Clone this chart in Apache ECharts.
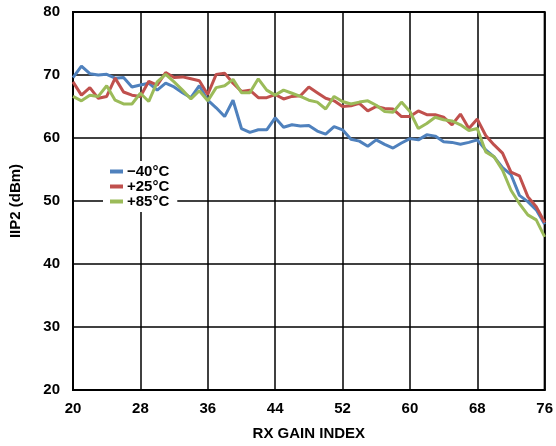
<!DOCTYPE html>
<html>
<head>
<meta charset="utf-8">
<script src="https://cdn.jsdelivr.net/npm/echarts@6/dist/echarts.min.js"></script>
<style>
html,body{margin:0;padding:0;background:#fff;}
#chart{width:556px;height:446px;}
</style>
</head>
<body>
<div id="chart"></div>
<script>
// Gain index categories 20..76
const gainIndex = [20,21,22,23,24,25,26,27,28,29,30,31,32,33,34,35,36,37,38,39,40,41,42,43,44,45,46,47,48,49,50,51,52,53,54,55,56,57,58,59,60,61,62,63,64,65,66,67,68,69,70,71,72,73,74,75,76];
const iip2Minus40 = [69.6,71.4,70.2,70.0,70.1,69.5,69.6,68.1,68.4,68.7,67.6,68.7,68.1,67.2,66.4,68.3,66.0,64.8,63.4,66.0,61.5,60.9,61.3,61.3,63.2,61.7,62.1,61.9,62.0,61.1,60.6,61.8,61.3,59.8,59.5,58.7,59.7,59.0,58.4,59.2,59.9,59.7,60.5,60.3,59.4,59.3,59.0,59.3,59.7,58.1,57.0,55.3,54.2,50.9,49.9,48.6,46.3];
const iip2Plus25 = [68.9,66.8,68.0,66.3,66.6,69.5,67.3,66.8,66.6,69.0,68.4,70.4,69.6,69.7,69.4,69.1,66.9,70.1,70.3,68.7,67.4,67.6,66.4,66.4,66.9,66.2,66.6,66.7,68.1,67.2,66.3,65.9,65.0,65.1,65.5,64.3,65.0,64.7,64.6,63.4,63.4,64.3,63.7,63.7,63.3,62.1,63.8,61.5,63.0,60.4,58.9,57.6,54.6,54.0,50.7,49.1,46.6];
const iip2Plus85 = [66.6,65.9,66.8,66.6,68.3,66.0,65.4,65.4,67.1,65.8,68.9,70.1,68.9,67.6,66.2,67.5,65.9,68.0,68.3,69.3,67.2,67.2,69.4,67.6,66.8,67.6,67.1,66.6,66.0,65.7,64.6,66.6,65.8,65.4,65.7,65.9,65.2,64.2,64.1,65.7,64.2,61.5,62.3,63.3,62.9,62.7,62.1,61.2,61.5,57.8,57.0,54.9,51.7,49.6,47.8,47.0,44.3];
const seriesNames = ['\u221240\u00B0C', '+25\u00B0C', '+85\u00B0C'];
const seriesColors = ['#4f81bd', '#c0504d', '#9bbb59'];

const font = 'Liberation Sans, Arial, sans-serif';
const chart = echarts.init(document.getElementById('chart'), null, {renderer: 'canvas'});
const seriesData = [iip2Minus40, iip2Plus25, iip2Plus85];
chart.setOption({
  animation: false,
  backgroundColor: '#fff',
  grid: {left: 71, right: 11, top: 12, bottom: 56, show: true, borderColor: '#000', borderWidth: 2, backgroundColor: 'transparent'},
  legend: {
    orient: 'vertical', left: 103, top: 161,
    padding: [3, 8, 3, 7],
    backgroundColor: '#fff',
    itemWidth: 13, itemHeight: 4, itemGap: 0,
    icon: 'rect',
    textStyle: {fontFamily: font, fontWeight: 'bold', fontSize: 15, color: '#000', lineHeight: 15, padding: [0,0,0,-1]},
    data: seriesNames
  },
  xAxis: {
    type: 'category', data: gainIndex, boundaryGap: false,
    name: 'RX GAIN INDEX', nameLocation: 'middle', nameGap: 36,
    nameTextStyle: {fontFamily: font, fontWeight: 'bold', fontSize: 15, color: '#000'},
    axisLine: {lineStyle: {color: '#000', width: 2}},
    axisTick: {show: false},
    axisLabel: {interval: 7, margin: 11, fontFamily: font, fontWeight: 'bold', fontSize: 15, color: '#000'},
    splitLine: {show: true, interval: 7, lineStyle: {color: '#000', width: 1.5}}
  },
  yAxis: {
    type: 'value', min: 20, max: 80, interval: 10,
    name: 'IIP2 (dBm)', nameLocation: 'middle', nameGap: 50,
    nameTextStyle: {fontFamily: font, fontWeight: 'bold', fontSize: 15, color: '#000'},
    axisLine: {show: true, lineStyle: {color: '#000', width: 2}},
    axisTick: {show: false},
    axisLabel: {margin: 13, fontFamily: font, fontWeight: 'bold', fontSize: 15, color: '#000'},
    splitLine: {show: true, lineStyle: {color: '#000', width: 1.5}}
  },
  series: seriesNames.map((n, i) => ({
    name: n, type: 'line', data: seriesData[i], showSymbol: false, symbol: 'none',
    color: seriesColors[i],
    lineStyle: {width: 3, color: seriesColors[i]},
    z: 2 + i
  }))
});
</script>
</body>
</html>
